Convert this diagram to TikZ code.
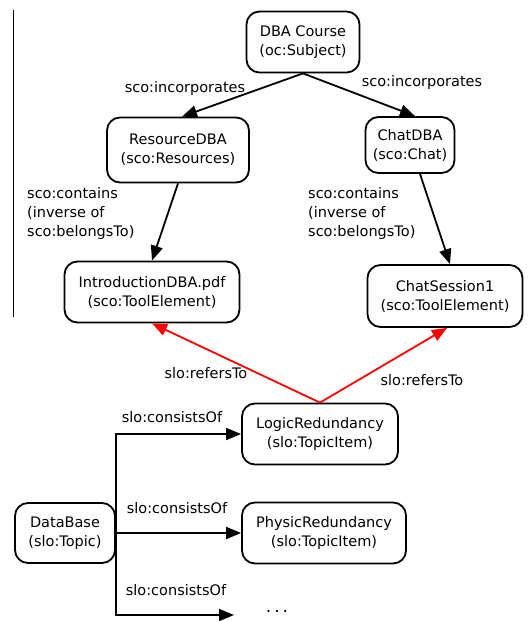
\documentclass[tikz,border=0pt]{standalone}
\usepackage{fontspec}
\setmainfont{DejaVu Sans}
\usetikzlibrary{arrows.meta,calc}
\begin{document}
\begin{tikzpicture}[x=1pt,y=-1pt,
  font=\fontsize{14.5}{19}\selectfont,
  box/.style={draw,line width=1.8pt,rounded corners=13pt,align=center,inner sep=0pt},
  lbl/.style={inner sep=0pt,align=left},
  arr/.style={line width=1.8pt,-{Triangle[length=15pt,width=12pt]}},
  rarr/.style={arr,red}]
\useasboundingbox (0,0) rectangle (529,621);
\draw[line width=0.8pt] (13,10) -- (13,317);
\node[box,minimum width=113pt,minimum height=61pt] (dba) at (303,42) {DBA Course\\(oc:Subject)};
\node[box,minimum width=142pt,minimum height=65pt] (res) at (178,150) {ResourceDBA\\(sco:Resources)};
\node[box,minimum width=89pt,minimum height=56pt] (chat) at (410,145) {ChatDBA\\(sco:Chat)};
\node[box,minimum width=175pt,minimum height=61pt] (intro) at (152,292) {IntroductionDBA.pdf\\(sco:ToolElement)};
\node[box,minimum width=155pt,minimum height=62pt] (cs) at (445,296) {ChatSession1\\(sco:ToolElement)};
\node[box,minimum width=156pt,minimum height=61pt] (logic) at (320,434) {LogicRedundancy\\(slo:TopicItem)};
\node[box,minimum width=164pt,minimum height=61pt] (phys) at (324,533) {PhysicRedundancy\\(slo:TopicItem)};
\node[box,minimum width=100pt,minimum height=60pt] (db) at (65,533) {DataBase\\(slo:Topic)};
\node[inner sep=0pt,font=\fontsize{17}{19}\selectfont] (more) at (277,611) {.\hspace{3pt}.\hspace{3pt}.};
\coordinate (moreend) at (234,615);

\draw[arr] (dba.south) -- ([xshift=4pt]res.north);
\draw[arr] (dba.south) -- ([xshift=5pt]chat.north);
\draw[arr] (res.south) -- (intro.north);
\draw[arr] ([xshift=10pt]chat.south) -- ([xshift=5pt]cs.north);
\draw[rarr] (logic.north) -- (intro.south);
\draw[rarr] (logic.north) -- ([xshift=2pt]cs.south);
\draw[arr] (db.east) |- (logic.west);
\draw[arr] (db.east) -- (phys.west);
\draw[arr] (db.east) |- (moreend);

\node[lbl] at (185,88) {sco:incorporates};
\node[lbl] at (422,82) {sco:incorporates};
\node[lbl,anchor=north west] at (27,187) {sco:contains\\(inverse of\\sco:belongsTo)};
\node[lbl,anchor=north west] at (308,187) {sco:contains\\(inverse of\\sco:belongsTo)};
\node[lbl] at (206,373) {slo:refersTo};
\node[lbl] at (422,380) {slo:refersTo};
\node[lbl] at (172,417) {slo:consistsOf};
\node[lbl] at (177,508) {slo:consistsOf};
\node[lbl] at (176,590) {slo:consistsOf};
\end{tikzpicture}
\end{document}
